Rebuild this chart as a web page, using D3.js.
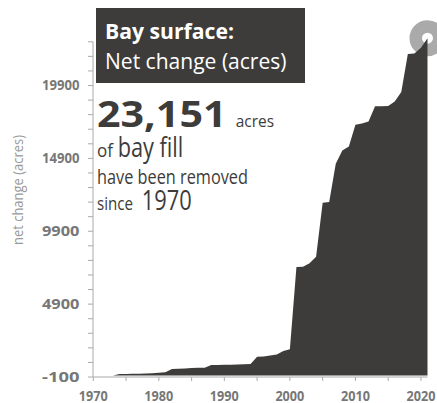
<!DOCTYPE html>
<html>
<head>
<meta charset="utf-8">
<script src="https://cdn.jsdelivr.net/npm/d3@7"></script>
<style>
  html, body { margin: 0; padding: 0; background: #fff; }
  svg { display: block; }
  text { font-family: "Open Sans", "Noto Sans", sans-serif; }
</style>
</head>
<body>
<svg id="chart" width="437" height="403"></svg>
<script>
const years = d3.range(1970, 2022);
const netChange = [
  0, 0, 0, 0, 100, 110, 120, 130, 140, 160,
  190, 230, 450, 460, 480, 520, 530, 540, 720, 730,
  740, 745, 750, 770, 790, 1290, 1310, 1370, 1440, 1680,
  1800, 7450, 7460, 7700, 8150, 11850, 11900, 14540, 15450, 15720,
  17210, 17300, 17430, 18480, 18480, 18500, 18800, 19450, 22070, 22100,
  22500, 23151
];
const yTickValues = [-100, 4900, 9900, 14900, 19900];
const yMinorTicks = d3.range(-100, 22901, 1000);
const xTickValues = d3.range(1970, 2021, 5);
const xLabelValues = [1970, 1980, 1990, 2000, 2010, 2020];

const data = years.map((y, i) => ({ year: y, value: netChange[i] }));

const svg = d3.select("#chart");
const dark = "#3d3c3a";

const x = d3.scaleLinear().domain([1970, 2021]).range([93.3, 427.5]);
const y = d3.scaleLinear().domain([-100, 22900]).range([377, 41.8]);

// y axis
const yAxis = svg.append("g").attr("transform", "translate(93,0)");
yAxis.append("line").attr("x1", 0).attr("x2", 0).attr("y1", y(22900)).attr("y2", y(-100))
  .attr("stroke", "#aaa").attr("stroke-width", 1);
yAxis.selectAll("line.minor").data(yMinorTicks).join("line").attr("class", "minor")
  .attr("x1", -5).attr("x2", 0).attr("y1", d => y(d)).attr("y2", d => y(d))
  .attr("stroke", "#aaa").attr("stroke-width", 1);
yAxis.selectAll("text").data(yTickValues).join("text")
  .attr("x", -13.5).attr("y", d => y(d)).attr("dy", "0.36em")
  .attr("text-anchor", "end").attr("font-size", 13.5).attr("font-weight", 700)
  .attr("fill", "#777").attr("textLength", 37.5).attr("lengthAdjust", "spacingAndGlyphs")
  .text(d => d);

// x axis
const xAxis = svg.append("g").attr("transform", `translate(0,${y(-100)})`);
xAxis.append("line").attr("x1", x(1970)).attr("x2", x(2021)).attr("y1", 0).attr("y2", 0)
  .attr("stroke", "#aaa").attr("stroke-width", 1);
xAxis.selectAll("line.tick").data(xTickValues).join("line").attr("class", "tick")
  .attr("x1", d => x(d)).attr("x2", d => x(d)).attr("y1", 0).attr("y2", 4)
  .attr("stroke", "#aaa").attr("stroke-width", 1);
xAxis.selectAll("text").data(xLabelValues).join("text")
  .attr("x", d => x(d)).attr("y", 23.5)
  .attr("text-anchor", "middle").attr("font-size", 13.5).attr("font-weight", 700)
  .attr("fill", "#777").attr("textLength", 29).attr("lengthAdjust", "spacingAndGlyphs")
  .text(d => d);

// y axis title
svg.append("text")
  .attr("transform", "translate(23,190) rotate(-90)")
  .attr("text-anchor", "middle").attr("font-size", 14).attr("font-weight", 400)
  .attr("fill", "#999").attr("textLength", 110).attr("lengthAdjust", "spacingAndGlyphs")
  .text("net change (acres)");

// end marker ring (under area)
const last = data[data.length - 1];
svg.append("circle").attr("cx", x(last.year)).attr("cy", y(last.value))
  .attr("r", 11.75).attr("fill", "#fff").attr("stroke", "#aaa").attr("stroke-width", 12.5);

// area
const area = d3.area().x(d => x(d.year)).y0(y(0)).y1(d => y(d.value)).curve(d3.curveLinear);
svg.append("path").datum(data).attr("d", area).attr("fill", dark);

// title box
svg.append("rect").attr("x", 96).attr("y", 8).attr("width", 209).attr("height", 75).attr("fill", dark);
svg.append("text").attr("x", 105).attr("y", 38.5).attr("font-size", 22).attr("font-weight", 700)
  .attr("fill", "#fff").attr("textLength", 129).attr("lengthAdjust", "spacingAndGlyphs")
  .text("Bay surface:");
svg.append("text").attr("x", 105).attr("y", 68.5).attr("font-size", 22).attr("font-weight", 400)
  .attr("fill", "#fff").attr("textLength", 181.5).attr("lengthAdjust", "spacingAndGlyphs")
  .text("Net change (acres)");

// annotation
function ann(txt, xx, yy, size, weight, len) {
  svg.append("text").attr("x", xx).attr("y", yy).attr("font-size", size).attr("font-weight", weight)
    .attr("fill", dark).attr("textLength", len).attr("lengthAdjust", "spacingAndGlyphs").text(txt);
}
ann("23,151", 97, 126.7, 36, 700, 129.5);
ann("acres", 235.7, 126.7, 17, 400, 38.3);
ann("of", 97, 156.7, 18, 400, 16);
ann("bay fill", 117.7, 156.7, 28, 400, 65.6);
ann("have been removed", 97, 184, 20, 400, 151);
ann("since", 97, 210, 19, 400, 36);
ann("1970", 141.7, 210, 28, 400, 50);
</script>
</body>
</html>
